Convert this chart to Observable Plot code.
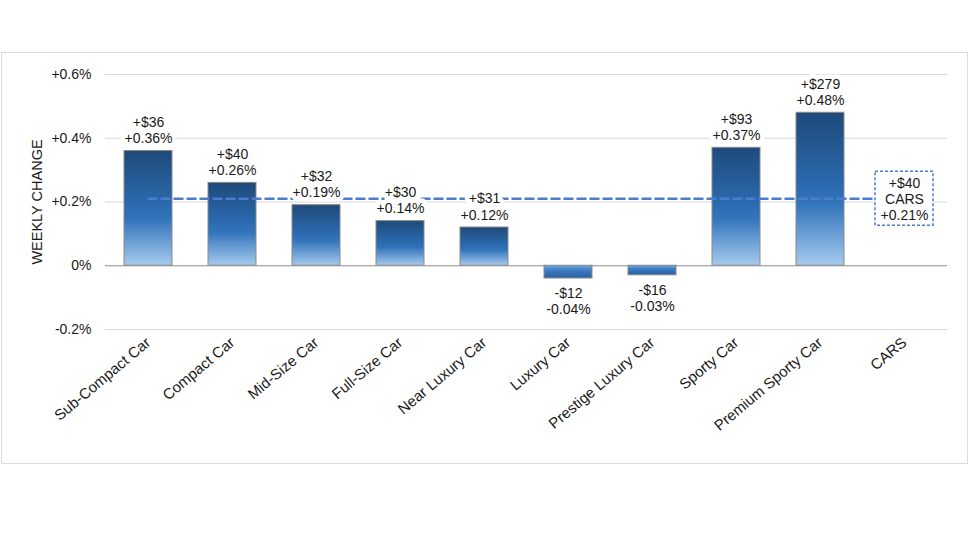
<!DOCTYPE html>
<html><head><meta charset="utf-8">
<script src="https://cdn.jsdelivr.net/npm/d3@7"></script>
<script src="https://cdn.jsdelivr.net/npm/@observablehq/plot@0.6"></script>
<style>
body{margin:0;background:#fff;}
#wrap{position:relative;width:980px;height:552px;overflow:hidden;}
#chart{position:absolute;left:0;top:0;}
#frame{position:absolute;left:1px;top:52px;width:965px;height:410px;border:1px solid #dcdcdc;pointer-events:none;}
</style></head><body>
<div id="wrap"><div id="chart"></div><div id="frame"></div></div>
<script>
// ---- data ----
const categories = ["Sub-Compact Car","Compact Car","Mid-Size Car","Full-Size Car","Near Luxury Car","Luxury Car","Prestige Luxury Car","Sporty Car","Premium Sporty Car","CARS"];
const segments = categories.slice(0, 9);
const pctChange = [0.36, 0.26, 0.19, 0.14, 0.12, -0.04, -0.03, 0.37, 0.48];
const dollarChange = ["+$36","+$40","+$32","+$30","+$31","-$12","-$16","+$93","+$279"];
const overallName = "CARS";
const overallPct = 0.21;
const overallDollar = "+$40";
const yTicks = [-0.2, 0, 0.2, 0.4, 0.6];
const yLabel = "WEEKLY CHANGE";

const fmtPct = v => v === 0 ? "0%" : (v > 0 ? "+" : "") + v + "%";
const bars = segments.map((c, i) => ({c, v: pctChange[i], label: dollarChange[i] + "\n" + fmtPct(pctChange[i])}));
const pos = bars.filter(d => d.v >= 0);
const neg = bars.filter(d => d.v < 0);
const avgLine = [categories[0], overallName].map(c => ({c, v: overallPct}));
const avgBox = [{c: overallName, v: overallPct, label: overallDollar + "\n" + overallName + "\n" + fmtPct(overallPct)}];

const font = "'Liberation Sans', Arial, Helvetica, sans-serif";
const blue = "#4a7cd0";

const chart = Plot.plot({
  width: 980, height: 552,
  marginLeft: 105, marginRight: 33, marginTop: 74, marginBottom: 223,
  style: {fontFamily: font, fontSize: "14px", color: "#1a1a1a", background: "transparent"},
  x: {type: "band", domain: categories, paddingInner: 0.43, paddingOuter: 0.215},
  y: {domain: [-0.2, 0.6]},
  marks: [
    Plot.gridY(yTicks.filter(t => t !== 0), {stroke: "#d9d9d9", strokeOpacity: 1}),
    Plot.ruleY([0], {stroke: "#8c8c8c", strokeWidth: 1}),
    Plot.axisY({ticks: yTicks, tickFormat: fmtPct, tickSize: 0, tickPadding: 14, fontSize: 14,
      label: null}),
    Plot.axisY({ticks: [], tickSize: 0, fontSize: 14.5,
      label: yLabel, labelAnchor: "center", labelArrow: "none", labelOffset: 74}),
    Plot.axisX({tickRotate: -40, tickSize: 0, tickPadding: 11, fontSize: 15, label: null}),
    Plot.barY(pos, {x: "c", y: "v", fill: "url(#gradPos)", stroke: "#8a8a8a", strokeWidth: 1}),
    Plot.barY(neg, {x: "c", y: "v", fill: "url(#gradNeg)", stroke: "#8a8a8a", strokeWidth: 1}),
    Plot.lineY(avgLine, {x: "c", y: "v", stroke: blue, strokeWidth: 2.5, strokeDasharray: "8,5"}),
    Plot.text(pos, {x: "c", y: "v", text: "label", lineAnchor: "bottom", dy: -8, lineHeight: 1.15,
      fontSize: 14, fill: "#1a1a1a", stroke: "white", strokeWidth: 9}),
    Plot.text(neg, {x: "c", y: "v", text: "label", lineAnchor: "top", dy: 8, lineHeight: 1.15,
      fontSize: 14, fill: "#1a1a1a", stroke: "white", strokeWidth: 9}),
    Plot.barY(avgBox, {x: "c", y1: "v", y2: "v", fill: "white", stroke: blue, strokeWidth: 1.5,
      strokeDasharray: "3,2", insetTop: -27, insetBottom: -27, insetLeft: -5, insetRight: -5}),
    Plot.text(avgBox, {x: "c", y: "v", text: "label", lineAnchor: "middle", lineHeight: 1.15,
      fontSize: 14, fill: "#1a1a1a"})
  ]
});

const defs = d3.select(chart).insert("defs", ":first-child");
const g1 = defs.append("linearGradient").attr("id", "gradPos").attr("x1", 0).attr("y1", 0).attr("x2", 0).attr("y2", 1);
[["0%", "#1f4a7a"], ["45%", "#2a68ac"], ["60%", "#3274bb"], ["100%", "#a6caee"]].forEach(([o, c]) => g1.append("stop").attr("offset", o).attr("stop-color", c));
const g2 = defs.append("linearGradient").attr("id", "gradNeg").attr("x1", 0).attr("y1", 0).attr("x2", 0).attr("y2", 1);
[["0%", "#7aa8dc"], ["40%", "#3a7bc4"], ["100%", "#2a5f9f"]].forEach(([o, c]) => g2.append("stop").attr("offset", o).attr("stop-color", c));

document.getElementById("chart").appendChild(chart);
</script>
</body></html>
